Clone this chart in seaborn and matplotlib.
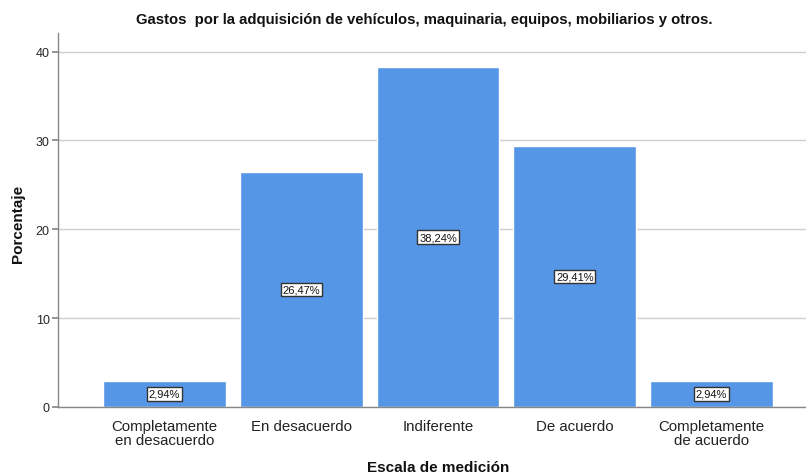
import matplotlib
matplotlib.use("Agg")
import matplotlib.pyplot as plt
import seaborn as sns
import pandas as pd

categories = ["Completamente\nen desacuerdo", "En desacuerdo", "Indiferente", "De acuerdo", "Completamente\nde acuerdo"]
values = [2.94, 26.47, 38.24, 29.41, 2.94]
labels = ["2,94%", "26,47%", "38,24%", "29,41%", "2,94%"]

sns.set_theme(style="white")
plt.rcParams['font.family'] = ['Liberation Sans', 'DejaVu Sans']

df = pd.DataFrame({"cat": categories, "val": values})

fig = plt.figure(figsize=(8.06, 4.77), dpi=100)
ax = fig.add_axes([0.072, 0.1447, 0.928, 0.784])
ax.yaxis.grid(True, color="#d0d0d0", linewidth=1)
ax.set_axisbelow(True)
sns.barplot(data=df, x="cat", y="val", color="#5596E6", width=0.898, saturation=1, ax=ax, zorder=2)

ax.set_xlim(-0.777, 4.69)
ax.set_ylim(0, 42.1)
ax.set_yticks([0, 10, 20, 30, 40])
for s in ["top", "right"]:
    ax.spines[s].set_visible(False)
for s in ["left", "bottom"]:
    ax.spines[s].set_color("#888888")
    ax.spines[s].set_linewidth(1)
ax.tick_params(axis="y", left=True, length=4, color="#888888", labelsize=9, pad=2)
ax.tick_params(axis="x", bottom=False, labelsize=10.8, pad=3, colors="#222222")
for t in ax.get_xticklabels():
    t.set_linespacing(0.95)
ax.set_xlabel("")
ax.set_ylabel("")
fig.text(18 / 806, 1 - 224 / 477, "Porcentaje", ha="center", va="center", rotation=90,
         fontsize=11, fontweight="bold", color="#111111")
fig.text(438 / 806, 1 - 468 / 477, "Escala de medición", ha="center", va="center",
         fontsize=11, fontweight="bold", color="#111111")
fig.text(424 / 806, 1 - 20 / 477,
         "Gastos  por la adquisición de vehículos, maquinaria, equipos, mobiliarios y otros.",
         ha="center", va="center", fontsize=10.7, fontweight="bold", color="#111111")

for i, (v, t) in enumerate(zip(values, labels)):
    ax.text(i, v / 2, t, ha="center", va="center", fontsize=8, color="#111111", zorder=5,
            bbox=dict(boxstyle="square,pad=0.15", facecolor="white", edgecolor="#333333", linewidth=1))

fig.savefig("out.png", dpi=100)
